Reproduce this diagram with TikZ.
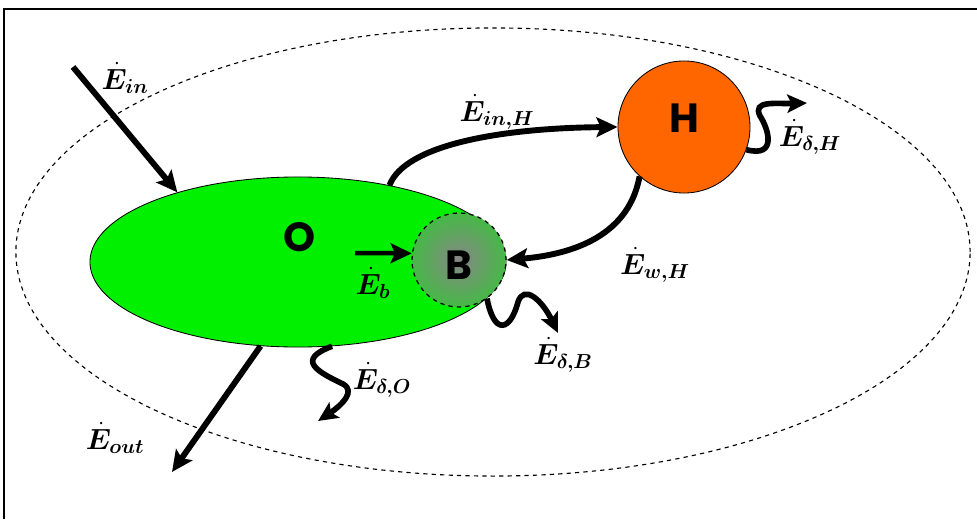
\documentclass[tikz,border=0pt]{standalone}
\usepackage{amsmath, bm}
\usepackage{fontspec}
\newfontfamily\letterfont{Poppins}
\usetikzlibrary{positioning, arrows.meta, shapes.geometric, calc}
\definecolor{organgreen}{RGB}{0,240,0}
\definecolor{heatorange}{RGB}{255,102,0}

\begin{document}
\begin{tikzpicture}[x=0.025cm, y=-0.025cm,
    flow/.style={-{Stealth[length=15pt, width=14pt, inset=3pt]}, line width=4.2pt},
    loss/.style={-{Stealth[length=14pt, width=13pt, inset=3pt]}, line width=4pt},
    rate/.style={font=\fontsize{20}{24}\selectfont},
    letter/.style={font=\letterfont\bfseries\fontsize{29}{30}\selectfont}
]
\useasboundingbox (0,0) rectangle (977,519);

% frame
\draw[line width=1.5pt] (4,519) -- (4,9) -- (977,9);

% system boundary
\node[ellipse, draw, dashed, line width=0.8pt, minimum width=23.85cm, minimum height=11.2cm] (sys) at (493,252) {};

% organism O
\node[ellipse, draw, fill=organgreen, line width=0.6pt, minimum width=10.4cm, minimum height=4.25cm, inner sep=0pt] (O) at (298,262) {};
\node[letter] (Olabel) at (300,237) {O};

% B (inside O)
\node[circle, draw, dashed, line width=0.9pt, minimum size=2.35cm, inner sep=0pt,
      inner color=gray!95, outer color=green!45!gray] (B) at (459,260) {};
\node[letter] (Blabel) at (459,265) {B};

% H
\node[circle, draw, fill=heatorange, line width=0.6pt, minimum size=3.3cm, inner sep=0pt] (H) at (684,127) {};
\node[letter] (Hlabel) at (684,118) {H};

% free ends
\coordinate (inStart) at (73,67);
\coordinate (outEnd) at (172,472);
\coordinate (bStart) at (355,253);
\coordinate (lossO) at (318,421);
\coordinate (lossB) at (558,333);
\coordinate (lossH) at (807,103);

% in and out
\draw[flow] (inStart) -- (O.150);
\draw[flow] (O.246) -- (outEnd);
\draw[flow, line width=3.2pt] (bStart) -- (B.172);

% exchange with H
\draw[flow] (O.40) .. controls (405,145) and (500,128) .. (H.west);
\draw[flow] (H.228) .. controls (628,240) and (565,255) .. (B.east);

% losses
\draw[loss] (O.292) .. controls (295,360) and (318,372) .. (343,384) .. controls (356,391) and (342,405) .. (lossO);
\draw[loss] (B.306) .. controls (494,335) and (510,332) .. (518,302) .. controls (524,284) and (542,300) .. (lossB);
\draw[loss] (H.340) .. controls (778,158) and (768,128) .. (760,116) .. controls (752,100) and (776,104) .. (lossH);

% labels
\node[rate] (Ein) at (125,78) {$\bm{\dot{E}_{in}}$};
\node[rate] (EinH) at (497,112) {$\bm{\dot{E}_{in,H}}$};
\node[rate] (EdH) at (810,137) {$\bm{\dot{E}_{\delta,H}}$};
\node[rate] (EwH) at (655,265) {$\bm{\dot{E}_{w,H}}$};
\node[rate] (Eb) at (373,283) {$\bm{\dot{E}_{b}}$};
\node[rate] (EdB) at (563,355) {$\bm{\dot{E}_{\delta,B}}$};
\node[rate] (EdO) at (382,380) {$\bm{\dot{E}_{\delta,O}}$};
\node[rate] (Eout) at (115,438) {$\bm{\dot{E}_{out}}$};

\end{tikzpicture}
\end{document}
